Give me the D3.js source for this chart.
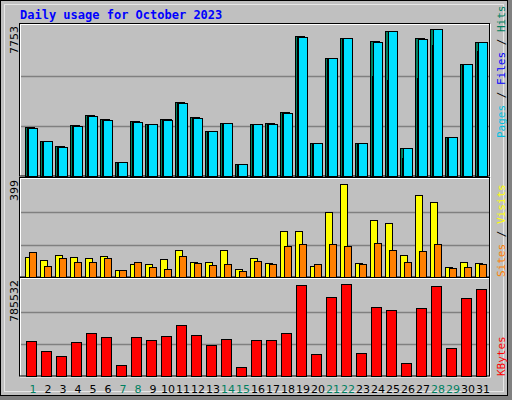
<!DOCTYPE html>
<html><head><meta charset="utf-8">
<script src="https://cdn.jsdelivr.net/npm/d3@7"></script>
<style>body{margin:0;background:#fff}</style>
</head><body>
<svg id="c" width="512" height="400"></svg>
<script>
// daily values
var days = d3.range(1, 32);
var weekend = [1, 7, 8, 14, 15, 21, 22, 28, 29];
var hits = [2533,1809,1551,2636,3153,2946,724,2843,2688,2946,3825,3050,2326,2740,620,2688,2740,3308,7236,1706,6099,7133,1706,6978,7495,1447,7133,7598,2016,5789,6926];
var files = [2480,1800,1500,2590,3100,2900,720,2800,2688,2946,3780,3000,2326,2740,620,2650,2700,3260,7180,1706,6099,7133,1706,5169,4962,930,5066,6771,2016,5789,6461];
var pages = [2480,1809,1500,2590,3100,2900,724,2800,2688,2900,3780,3000,2326,2740,620,2688,2690,3260,7180,1706,6099,7133,1706,6926,7495,1447,7080,7598,2016,5789,6926];
var visits = [82,70,90,82,78,86,29,53,53,74,111,62,62,111,33,78,58,189,189,45,267,382,58,234,222,90,337,308,41,62,58];
var sites = [103,45,78,62,62,78,29,62,41,33,86,58,49,53,25,66,53,127,136,53,136,127,53,140,111,62,107,136,37,41,53];
var kbytes = [286400,204600,163700,278200,351900,319100,90000,319100,294600,327300,417300,335500,253700,302800,73600,294600,294600,351900,744700,180000,646500,752800,188200,564600,540100,106400,556400,736500,229100,638300,711900];
var maxHits = 7753, maxVisits = 399, maxKB = 785532;

var svg = d3.select("#c");
var grey = "#c0c0c0";

// window frame
svg.append("rect").attr("x", 0).attr("y", 0).attr("width", 512).attr("height", 400).attr("fill", "#808080");
svg.append("rect").attr("x", 0.5).attr("y", 0.5).attr("width", 507).attr("height", 395).attr("fill", grey).attr("stroke", "#000");
svg.append("rect").attr("x", 4.5).attr("y", 4.5).attr("width", 499).attr("height", 387).attr("fill", "none").attr("stroke", "#fff").attr("stroke-opacity", 0.6);

svg.append("text").attr("x", 20).attr("y", 19).text("Daily usage for October 2023")
    .attr("fill", "#0000ff").attr("font-family", "DejaVu Sans Mono").attr("font-weight", "bold").attr("font-size", 12);

var x = d3.scaleLinear().domain([1, 32]).range([20, 485]);

function panel(top, bottom, max, label) {
    var y = d3.scaleLinear().domain([0, max]).range([bottom, top]);
    svg.append("rect").attr("x", 20.5).attr("y", top - 1.5).attr("width", 470).attr("height", bottom - top + 2.5)
        .attr("fill", "none").attr("stroke", "#fff");
    svg.append("rect").attr("x", 19.5).attr("y", top - 2.5).attr("width", 470).attr("height", bottom - top + 2.5)
        .attr("fill", "none").attr("stroke", "#000");
    [1 / 3, 2 / 3].forEach(function(f) {
        svg.append("line").attr("x1", 21).attr("x2", 489)
            .attr("y1", Math.round(y(max * f)) + 0.5).attr("y2", Math.round(y(max * f)) + 0.5)
            .attr("stroke", "#808080").attr("stroke-width", 1.5);
    });
    svg.append("text").attr("transform", "translate(18," + top + ") rotate(-90)")
        .attr("text-anchor", "end").attr("font-family", "DejaVu Sans").attr("font-size", 11).text(label);
    return y;
}

function bars(vals, y, dx, w, color) {
    svg.append("g").selectAll("rect").data(vals).enter().append("rect")
        .attr("x", function(d, i) { return x(days[i]) + dx + 0.5; })
        .attr("y", function(d) { return Math.round(y(d)) + 0.5; })
        .attr("width", w)
        .attr("height", function(d) { return Math.round(y(0)) - Math.round(y(d)); })
        .attr("fill", color).attr("stroke", "#000");
}

var y1 = panel(26, 176, maxHits, "7753");
bars(hits, y1, 5, 9, "#008060");
bars(files, y1, 7, 9, "#0000ff");
bars(pages, y1, 8, 9, "#00e0ff");

var y2 = panel(180, 277, maxVisits, "399");
bars(visits, y2, 5, 7, "#ffff00");
bars(sites, y2, 9, 7, "#ff8000");

var y3 = panel(280, 376, maxKB, "785532");
bars(kbytes, y3, 6, 10, "#ff0000");

// day labels
svg.append("g").selectAll("text").data(days).enter().append("text")
    .attr("x", function(d) { return x(d) + 13; })
    .attr("y", 393).attr("text-anchor", "middle")
    .attr("font-family", "DejaVu Sans").attr("font-size", 11)
    .attr("fill", function(d) { return weekend.indexOf(d) >= 0 ? "#008060" : "#000"; })
    .text(function(d) { return d; });

// right side legends
function legend(yEnd, parts) {
    var t = svg.append("text").attr("transform", "translate(505," + yEnd + ") rotate(-90)")
        .attr("font-family", "DejaVu Sans Mono").attr("font-size", 11);
    parts.forEach(function(p) { t.append("tspan").attr("fill", p[1]).text(p[0]); });
}
legend(138, [["Pages", "#00c0e0"], [" / ", "#000"], ["Files", "#0000ff"], [" / ", "#000"], ["Hits", "#008060"]]);
legend(277, [["Sites", "#ff8000"], [" / ", "#000"], ["Visits", "#ffff00"]]);
legend(376, [["KBytes", "#ff0000"]]);
</script>
</body></html>
